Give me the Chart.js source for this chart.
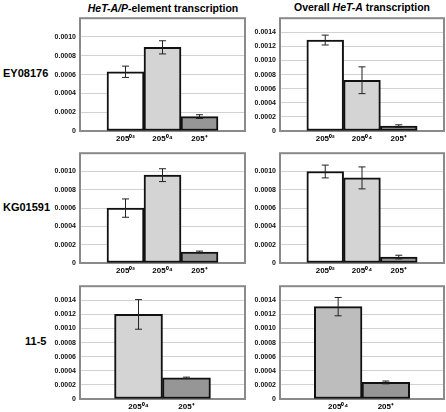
<!DOCTYPE html>
<html>
<head>
<meta charset="utf-8">
<script src="https://cdn.jsdelivr.net/npm/chart.js@4"></script>
<style>
  body { margin: 0; width: 446px; height: 412px; overflow: hidden; background: #fff; position: relative;
         font-family: "Liberation Sans", Arial, sans-serif; color: #000; }
  .box { position: absolute; }
  .title { position: absolute; font-weight: bold; font-size: 10.5px; white-space: nowrap; transform: translateX(-50%); }
  .row { position: absolute; font-weight: bold; font-size: 11px; white-space: nowrap; }
</style>
</head>
<body>
<div class="title" style="left:163px; top:2px;"><i>HeT-A/P</i>-element transcription</div>
<div class="title" style="left:362px; top:1px;">Overall <i>HeT-A</i> transcription</div>
<div class="row" style="left:3px; top:67px;">EY08176</div>
<div class="row" style="left:3px; top:201px;">KG01591</div>
<div class="row" style="left:25px; top:335px;">11-5</div>

<div class="box" style="left:20px; top:10px; width:230px; height:134px;"><canvas id="c1"></canvas></div>
<div class="box" style="left:222px; top:10px; width:224px; height:134px;"><canvas id="c2"></canvas></div>
<div class="box" style="left:20px; top:145px; width:230px; height:131px;"><canvas id="c3"></canvas></div>
<div class="box" style="left:222px; top:145px; width:224px; height:131px;"><canvas id="c4"></canvas></div>
<div class="box" style="left:20px; top:278px; width:230px; height:134px;"><canvas id="c5"></canvas></div>
<div class="box" style="left:222px; top:278px; width:224px; height:134px;"><canvas id="c6"></canvas></div>

<script>
const labels3 = ['205⁰²', '205⁰⁴', '205⁺'];
const labels2 = ['205⁰⁴', '205⁺'];

// EY08176
const eyPValues = [0.00063, 0.00089, 0.000153];
const eyPErrors = [0.00006, 0.00007, 0.00002];
const eyAValues = [0.00129, 0.00072, 0.00007];
const eyAErrors = [0.00007, 0.00019, 0.000018];
// KG01591
const kgPValues = [0.0006, 0.00096, 0.00012];
const kgPErrors = [0.0001, 0.00007, 0.00001];
const kgAValues = [0.001, 0.00093, 0.000065];
const kgAErrors = [0.00007, 0.00012, 0.00002];
// 11-5
const e115PValues = [0.0012, 0.0003];
const e115PErrors = [0.00021, 0.00001];
const e115AValues = [0.00131, 0.000235];
const e115AErrors = [0.00013, 0.00002];

const yMaxes = [0.0012, 0.0016, 0.0012, 0.0012, 0.0016, 0.0016];

const white = '#ffffff', light = '#d4d4d4', dark = '#969696', mid = '#bdbdbd';

// frame round the plot area
const framePlugin = {
  id: 'frame',
  beforeDatasetsDraw(chart) {
    const a = chart.chartArea, ctx = chart.ctx;
    ctx.save();
    ctx.strokeStyle = '#8a8a8a';
    ctx.lineWidth = 2;
    ctx.strokeRect(a.left, a.top, a.right - a.left, a.bottom - a.top);
    ctx.restore();
  }
};

// error bars from the value/error arrays
const errorPlugin = {
  id: 'errbars',
  afterDatasetsDraw(chart) {
    const ctx = chart.ctx, y = chart.scales.y;
    const errs = chart.options.plugins.errbars.errors;
    const vals = chart.data.datasets[0].data;
    chart.getDatasetMeta(0).data.forEach((bar, i) => {
      const top = y.getPixelForValue(vals[i].y + errs[i]);
      const bot = y.getPixelForValue(vals[i].y - errs[i]);
      ctx.save();
      ctx.strokeStyle = '#222';
      ctx.lineWidth = 1;
      ctx.beginPath();
      ctx.moveTo(bar.x, top); ctx.lineTo(bar.x, bot);
      ctx.moveTo(bar.x - 3.5, top); ctx.lineTo(bar.x + 3.5, top);
      ctx.moveTo(bar.x - 3.5, bot); ctx.lineTo(bar.x + 3.5, bot);
      ctx.stroke();
      ctx.restore();
    });
  }
};

function makeChart(id, labels, values, errors, colors, yMax, yW, padRight) {
  const n = labels.length;
  const half = n === 3 ? 2.23 : 1.72;
  const mid = (n + 1) / 2;
  new Chart(document.getElementById(id), {
    type: 'bar',
    data: {
      datasets: [{
        data: values.map((v, i) => ({ x: i + 1, y: v })),
        backgroundColor: colors,
        borderColor: '#111',
        borderWidth: 2,
        borderSkipped: false,
        barThickness: 'flex',
        categoryPercentage: 1,
        barPercentage: 1
      }]
    },
    options: {
      animation: false,
      responsive: true,
      maintainAspectRatio: false,
      layout: { padding: { top: 5, right: padRight, left: 0, bottom: 0 } },
      plugins: { legend: { display: false }, tooltip: { enabled: false }, errbars: { errors: errors } },
      scales: {
        x: {
          type: 'linear',
          offset: false,
          bounds: 'data',
          min: mid - half,
          max: mid + half,
          afterBuildTicks: s => { s.ticks = labels.map((_, i) => ({ value: i + 1 })); },
          afterFit: s => { s.height = 13; },
          grid: { display: false, drawTicks: false },
          border: { display: false },
          ticks: {
            padding: 3,
            autoSkip: false,
            maxRotation: 0,
            minRotation: 0,
            color: '#000',
            font: { family: 'Liberation Sans', size: 8, weight: 'bold' },
            callback: v => labels[v - 1]
          }
        },
        y: {
          min: 0,
          max: yMax,
          afterFit: s => { s.width = yW; },
          grid: { color: '#d2d2d2', lineWidth: 1, drawTicks: false },
          border: { display: false },
          ticks: {
            stepSize: 0.0002,
            padding: 4,
            color: '#111',
            font: { family: 'Liberation Sans', size: 7, weight: 'bold' },
            callback: v => (Math.abs(v - yMax) < 1e-9 ? null : (v === 0 ? '0' : v.toFixed(4)))
          }
        }
      }
    },
    plugins: [framePlugin, errorPlugin]
  });
}

makeChart('c1', labels3, eyPValues, eyPErrors, [white, light, dark], yMaxes[0], 60, 5);
makeChart('c2', labels3, eyAValues, eyAErrors, [white, light, dark], yMaxes[1], 58, 2);
makeChart('c3', labels3, kgPValues, kgPErrors, [white, light, dark], yMaxes[2], 60, 5);
makeChart('c4', labels3, kgAValues, kgAErrors, [white, light, dark], yMaxes[3], 58, 2);
makeChart('c5', labels2, e115PValues, e115PErrors, [light, dark], yMaxes[4], 60, 5);
makeChart('c6', labels2, e115AValues, e115AErrors, [mid, dark], yMaxes[5], 58, 2);
</script>
</body>
</html>
